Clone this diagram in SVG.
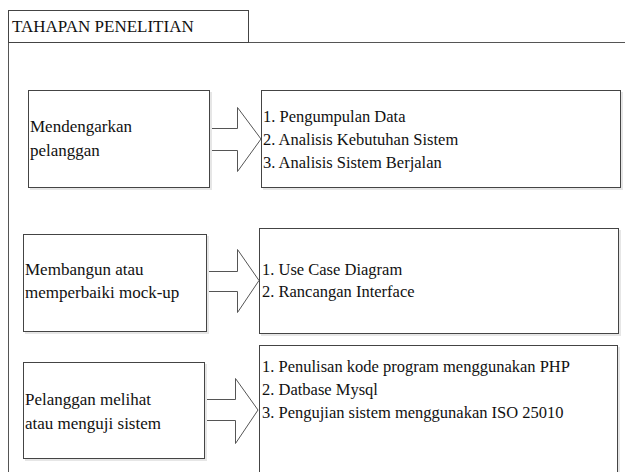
<svg xmlns="http://www.w3.org/2000/svg" width="625" height="472" viewBox="0 0 625 472">
<style>
.box{fill:#fff;stroke:#444;stroke-width:1}
.sh{fill:none;stroke:#e6e6e6;stroke-width:2}
.arr{fill:#fff;stroke:#555;stroke-width:1}
.t{font-family:'Liberation Serif','Times New Roman',serif;fill:#111}
.l{font-size:17px}
.r{font-size:16.5px}
</style>
<rect width="625" height="472" fill="#fff"/>
<g id="frame">
<path d="M8.5 42.5 H625 M8.5 42.5 V472" fill="none" stroke="#555" stroke-width="1"/>
<rect class="box" x="8.5" y="10.5" width="240" height="32"/>
<text class="t l" x="12" y="32" font-family="Times New Roman">TAHAPAN PENELITIAN</text>
</g>
<g id="connectors">
<polygon class="arr" points="209.5,128.5 237.5,128.5 237.5,107.5 261,139 237.5,171.5 237.5,150.5 209.5,150.5"/>
<polygon class="arr" points="206.5,271.5 237.5,271.5 237.5,249.5 259,280.5 237.5,312.5 237.5,291.5 206.5,291.5"/>
<polygon class="arr" points="204.5,399.5 235.5,399.5 235.5,378.5 258,410 235.5,443.5 235.5,420.5 204.5,420.5"/>
</g>
<g id="node1">
<path class="sh" d="M30 189 H211 V92"/>
<rect class="box" x="28.5" y="90.5" width="181" height="97"/>
<text class="t l" x="30" y="132">Mendengarkan</text>
<text class="t l" x="30" y="156">pelanggan</text>
</g>
<g id="node1r">
<path class="sh" d="M263 189 H622 V92"/>
<rect class="box" x="261.5" y="90.5" width="359" height="97"/>
<text class="t r" x="263" y="122">1. Pengumpulan Data</text>
<text class="t r" x="263" y="145">2. Analisis Kebutuhan Sistem</text>
<text class="t r" x="263" y="168">3. Analisis Sistem Berjalan</text>
</g>
<g id="node2">
<path class="sh" d="M25 333 H208 V236"/>
<rect class="box" x="23.5" y="234.5" width="183" height="97"/>
<text class="t l" x="25" y="275">Membangun atau</text>
<text class="t l" x="25" y="298">memperbaiki mock-up</text>
</g>
<g id="node2r">
<path class="sh" d="M261 335 H620 V230"/>
<rect class="box" x="259.5" y="228.5" width="359" height="105"/>
<text class="t r" x="262" y="275">1. Use Case Diagram</text>
<text class="t r" x="262" y="297">2. Rancangan Interface</text>
</g>
<g id="node3">
<path class="sh" d="M25 460 H206 V364"/>
<rect class="box" x="23.5" y="362.5" width="181" height="96"/>
<text class="t l" x="25" y="405">Pelanggan melihat</text>
<text class="t l" x="25" y="429">atau menguji sistem</text>
</g>
<g id="node3r">
<path class="sh" d="M619 347 V472"/>
<rect class="box" x="259.5" y="345.5" width="358" height="140"/>
<text class="t r" x="262" y="372">1. Penulisan kode program menggunakan PHP</text>
<text class="t r" x="262" y="395">2. Datbase Mysql</text>
<text class="t r" x="262" y="418">3. Pengujian sistem menggunakan ISO 25010</text>
</g>
</svg>
